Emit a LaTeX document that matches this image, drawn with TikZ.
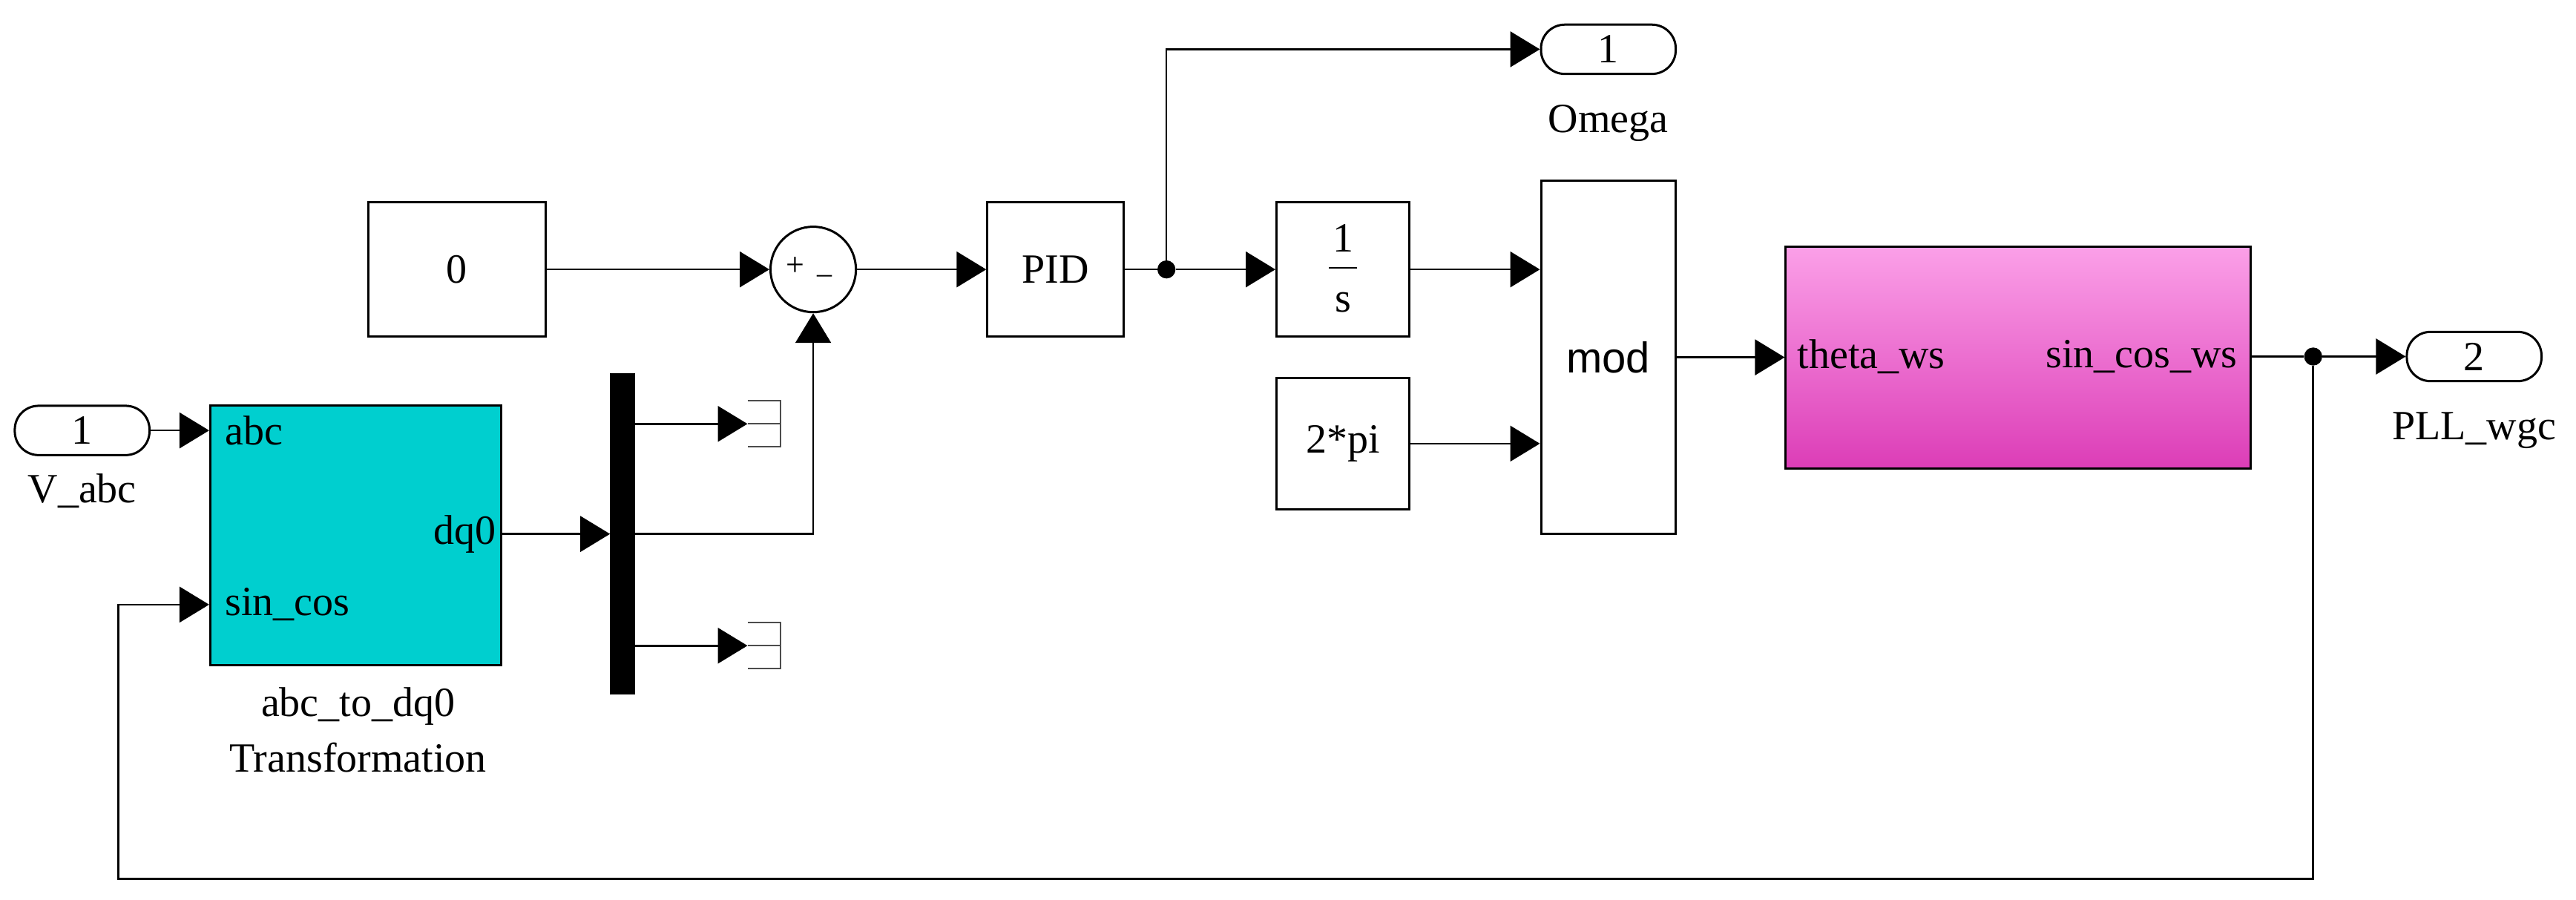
\documentclass[tikz,border=0pt]{standalone}
\usepackage{fontspec}
\setmainfont{Liberation Serif}
\newfontfamily\modfont{Liberation Sans}
\usetikzlibrary{arrows.meta,positioning}
\definecolor{cyanblk}{HTML}{00CFCF}
\definecolor{pinkT}{HTML}{FBA0E8}
\definecolor{pinkM}{HTML}{F6B4EC}
\definecolor{pinkB}{HTML}{DC3DB7}
\def\u{2.214pt}
\begin{document}
\begin{tikzpicture}[x=2.214pt,y=-2.214pt,
  every node/.style={font=\fontsize{56}{62}\selectfont},
  line/.style={line width=2.6pt},
  sig/.style={line, -{Triangle[length=40pt,width=48pt]}},
  box/.style={draw, line width=3pt, fill=white, inner sep=0pt},
  port/.style={draw, line width=3pt, rounded corners=32pt, inner sep=0pt, minimum width={82*\u}, minimum height={30*\u}},
  lbl/.style={inner sep=0pt},
  dot/.style={circle, fill=black, inner sep=0pt, minimum size={11*\u}}]
\useasboundingbox (0,0) rectangle (1568,547.4);

% blocks
\node[port] (vin) at (50,262) {1};
\node[lbl] (vinl) at (50,299) {V\_abc};
\node[box, fill=cyanblk, minimum width={177*\u}, minimum height={158*\u}] (abc) at (216.5,326) {};
\node[lbl, anchor=west] (pabc) at (137,262) {abc};
\node[lbl, anchor=west] (psc) at (137,368) {sin\_cos};
\node[lbl, anchor=east] (pdq) at (302,325) {dq0};
\node[lbl] (abcl1) at (218,430) {abc\_to\_dq0};
\node[lbl] (abcl2) at (218,461) {Transformation};

\node[box, fill=black, minimum width={14*\u}, minimum height={194*\u}] (demux) at (379,325) {};
\coordinate (t1) at (455,258);
\coordinate (t2) at (455,393);

\node[box, minimum width={108*\u}, minimum height={82*\u}] (c0) at (278,164) {0};
\node[draw, circle, line width=3pt, minimum size={52*\u}, inner sep=0pt] (sum) at (495,164) {};
\node[lbl, font=\fontsize{44}{46}\selectfont] (splus) at (484,162) {+};
\node[lbl, font=\fontsize{40}{42}\selectfont] (sminus) at (502,170) {\textendash};
\node[box, minimum width={83*\u}, minimum height={82*\u}] (pid) at (642.5,164) {PID};
\node[dot] (j1) at (710,164) {};
\node[port] (om) at (979,30) {1};
\node[lbl] (oml) at (979,75) {Omega};
\node[box, minimum width={81*\u}, minimum height={82*\u}] (int) at (817.5,164) {};
\node[lbl] (num) at (817.5,145) {1};
\node[lbl] (den) at (817.5,184) {s};
\draw[line width=2.4pt] (809,163) -- (826,163);
\node[box, minimum width={81*\u}, minimum height={80*\u}] (tpi) at (817.5,270) {2*pi};
\node[box, minimum width={82*\u}, minimum height={215*\u}, font=\modfont\fontsize{58}{62}\selectfont] (mod) at (979,217.5) {mod};
\node[box, top color=pinkT, middle color=pinkM, bottom color=pinkB, draw=black, minimum width={283*\u}, minimum height={135*\u}] (sub) at (1228.5,217.5) {};
\node[lbl, anchor=west] (pth) at (1094,217) {theta\_ws};
\node[lbl, anchor=east] (psw) at (1362,217) {sin\_cos\_ws};
\node[dot] (j2) at (1408,217) {};
\node[port] (pll) at (1506,217) {2};
\node[lbl] (plll) at (1506,262) {PLL\_wgc};
\coordinate (fb1) at (1408,535);
\coordinate (fb2) at (72,535);

% terminators
\foreach \t in {t1,t2}{
  \draw[line width=2.4pt, gray!60!black] ([shift={(0,-14)}]\t) -- ++(20,0) -- ++(0,28) -- ++(-20,0);
  \draw[line width=2.4pt, gray!60!black] (\t) -- ++(20,0);
}

% connectors
\draw[sig] (vin.east) -- (vin.east -| abc.west);
\draw[sig] (abc.east |- pdq) -- (demux.west |- pdq);
\draw[sig] (demux.east |- t1) -- (t1);
\draw[sig] (demux.east |- t2) -- (t2);
\draw[sig] (demux.east |- pdq) -| (sum.south);
\draw[sig] (c0.east) -- (sum.west);
\draw[sig] (sum.east) -- (pid.west);
\draw[line] (pid.east) -- (j1);
\draw[sig] (j1) -- (int.west);
\draw[sig] (j1) |- (om.west);
\draw[sig] (int.east) -- (mod.west |- int.east);
\draw[sig] (tpi.east) -- (mod.west |- tpi.east);
\draw[sig] (mod.east) -- (sub.west |- mod.east);
\draw[line] (sub.east |- j2) -- (j2);
\draw[sig] (j2) -- (pll.west);
\draw[sig] (j2) -- (fb1) -- (fb2) |- (abc.west |- psc);
\end{tikzpicture}
\end{document}
